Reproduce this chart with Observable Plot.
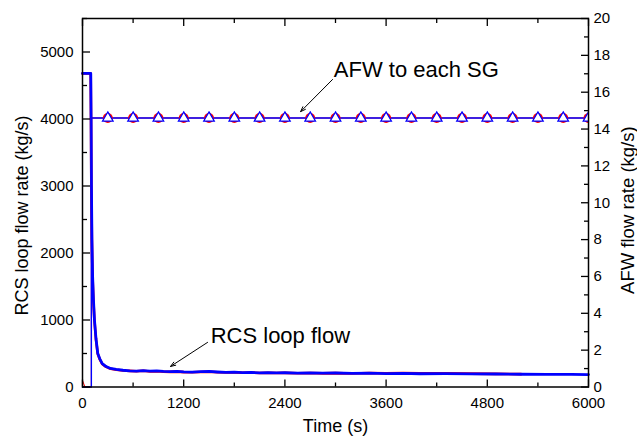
<!DOCTYPE html>
<html>
<head>
<meta charset="utf-8">
<script src="https://cdn.jsdelivr.net/npm/d3@7"></script>
<script src="https://cdn.jsdelivr.net/npm/@observablehq/plot@0.6"></script>
<style>
  html, body { margin: 0; padding: 0; background: white; }
  #chart { width: 637px; height: 437px; }
</style>
</head>
<body>
<div id="chart"></div>
<script>
// ---- Data ----
const xDomain = [0, 6000];
const leftDomain = [0, 5500];   // RCS loop flow rate (kg/s)
const rightDomain = [0, 20];    // AFW flow rate (kg/s)

const xMajorTicks = [0, 1200, 2400, 3600, 4800, 6000];
const xMinorTicks = [600, 1800, 3000, 4200, 5400];
const leftMajorTicks = [0, 1000, 2000, 3000, 4000, 5000];
const leftMinorTicks = [500, 1500, 2500, 3500, 4500, 5500];
const rightMajorTicks = [0, 2, 4, 6, 8, 10, 12, 14, 16, 18, 20];
const rightMinorTicks = [1, 3, 5, 7, 9, 11, 13, 15, 17, 19];

// RCS loop flow, case 1 (blue) [time s, kg/s]
const rcsBlue = [[0,4680],[98,4680],[102,4000],[106,3000],[112,2200],[120,1650],[130,1300],[142,1000],[160,720],[181,500],[205,420],[234,350],[280,305],[332,277],[400,262],[480,250],[560,242],[640,238],[720,245],[800,236],[880,240],[960,232],[1040,228],[1120,234],[1200,226],[1300,222],[1400,228],[1500,232],[1600,224],[1700,218],[1800,222],[1900,214],[2000,218],[2100,212],[2200,216],[2300,210],[2400,213],[2550,208],[2700,212],[2850,206],[3000,209],[3200,204],[3400,206],[3600,200],[3800,202],[4000,198],[4300,199],[4600,195],[4900,194],[5200,190],[5500,189],[5800,187],[6000,186]];
// RCS loop flow, case 2 (red)
const rcsRed = [[0,4680],[97,4680],[101,4000],[105,3000],[111,2200],[119,1650],[129,1300],[141,1000],[159,720],[180,500],[204,415],[233,345],[280,300],[332,272],[400,258],[480,246],[560,240],[640,236],[720,242],[800,232],[880,236],[960,228],[1040,226],[1120,230],[1200,222],[1300,220],[1400,224],[1500,228],[1600,220],[1700,216],[1800,219],[1900,212],[2000,215],[2100,210],[2200,213],[2300,208],[2400,211],[2550,206],[2700,210],[2850,204],[3000,207],[3200,202],[3400,210],[3600,206],[3800,208],[4000,204],[4300,205],[4600,200],[4900,196],[5200,192]];

// AFW to each SG [time s, kg/s]
const afwBlue = [[0,0],[105,0],[105,14.6],[6000,14.6]];
const afwRed = [[0,0.35],[30,0],[105,0],[105,14.6],[6000,14.6]];
const afwMarkerTimes = [300,600,900,1200,1500,1800,2100,2400,2700,3000,3300,3600,3900,4200,4500,4800,5100,5400,5700,6000];
const afwMarkerValue = 14.6;

// Annotations [time, left-axis value]
const annotations = [
  {text: "AFW to each SG", t: 2980, v: 4630, t0: 2965, v0: 4590, t1: 2586, v1: 4110},
  {text: "RCS loop flow", t: 1520, v: 655, t0: 1483, v0: 666, t1: 1044, v1: 307}
];

// Axis titles, placed in data coordinates outside the frame
const axisTitles = [
  {text: "RCS loop flow rate (kg/s)", t: -712, v: 2560, size: 18},
  {text: "AFW flow rate (kg/s)", t: 6475, v: 2640, size: 18.5}
];

// ---- Build ----
const k = leftDomain[1] / rightDomain[1]; // right -> left units
const toObj = (a) => a.map(([t, v]) => ({t, v}));
const afwMarkers = afwMarkerTimes.map(t => ({t, v: afwMarkerValue * k}));
const BLUE = "#0000ff", RED = "#ff0000";
const font = "'Liberation Sans', Arial, Helvetica, sans-serif";

const chart = Plot.plot({
  width: 637,
  height: 437,
  marginLeft: 82,
  marginRight: 49,
  marginTop: 18,
  marginBottom: 50.5,
  style: {fontFamily: font, fontSize: "15px", background: "white", color: "black"},
  x: {domain: xDomain, axis: null},
  y: {domain: leftDomain, axis: null},
  marks: [
    // RCS loop flow
    Plot.line(toObj(rcsRed), {x: "t", y: "v", stroke: RED, strokeWidth: 2.6}),
    Plot.line(toObj(rcsBlue), {x: "t", y: "v", stroke: BLUE, strokeWidth: 2.8}),
    // AFW
    Plot.line(toObj(afwRed), {x: "t", y: d => d.v * k, stroke: RED, strokeWidth: 1}),
    Plot.line(toObj(afwBlue), {x: "t", y: d => d.v * k, stroke: BLUE, strokeWidth: 1.4}),
    Plot.dot(afwMarkers, {x: "t", y: "v", r: 5, fill: RED, stroke: "none", clip: true}),
    Plot.dot(afwMarkers, {x: "t", y: "v", symbol: "triangle", r: 3.9, fill: "white", stroke: BLUE, strokeWidth: 1.3, clip: true}),
    // Annotations
    Plot.arrow(annotations, {x1: "t0", y1: "v0", x2: "t1", y2: "v1", stroke: "black", strokeWidth: 1, headLength: 8, headAngle: 40}),
    Plot.text(annotations, {x: "t", y: "v", text: "text", textAnchor: "start", lineAnchor: "bottom", fontSize: 22, fill: "black"}),
    // Frame
    Plot.frame({stroke: "black", strokeWidth: 1.5}),
    // Bottom axis
    Plot.axisX({anchor: "bottom", ticks: xMajorTicks, tickSize: -7, tickPadding: 17, tickFormat: d => String(d), label: null, fontSize: 15, strokeWidth: 1.3}),
    Plot.axisX({anchor: "bottom", ticks: xMinorTicks, tickSize: -4, tickFormat: () => "", label: null, strokeWidth: 1.3}),
    // Top axis (ticks only)
    Plot.axisX({anchor: "top", ticks: xMajorTicks, tickSize: -7, tickFormat: () => "", label: null, strokeWidth: 1.3}),
    Plot.axisX({anchor: "top", ticks: xMinorTicks, tickSize: -4, tickFormat: () => "", label: null, strokeWidth: 1.3}),
    // Left axis
    Plot.axisY({anchor: "left", ticks: leftMajorTicks, tickSize: -8, tickPadding: 17, tickFormat: d => String(d), label: null, fontSize: 15, strokeWidth: 1.3}),
    Plot.axisY({anchor: "left", ticks: leftMinorTicks, tickSize: -5, tickFormat: () => "", label: null, strokeWidth: 1.3}),
    // Right axis (AFW)
    Plot.axisY({anchor: "right", ticks: rightMajorTicks.map(d => d * k), tickSize: -8, tickPadding: 13, tickFormat: d => String(Math.round(d / k)), label: null, fontSize: 15, strokeWidth: 1.3}),
    Plot.axisY({anchor: "right", ticks: rightMinorTicks.map(d => d * k), tickSize: -5, tickFormat: () => "", label: null, strokeWidth: 1.3}),
    // Axis titles
    Plot.text(["Time (s)"], {frameAnchor: "bottom", dy: 45, text: d => d, textAnchor: "middle", lineAnchor: "bottom", fontSize: 18}),
    Plot.text(axisTitles, {x: "t", y: "v", text: "text", rotate: -90, fontSize: d => d.size, textAnchor: "middle", lineAnchor: "middle"})
  ]
});
// force centred anchoring on the rotated axis titles
const titleSet = new Set(axisTitles.map(d => d.text));
d3.select(chart).selectAll("text").each(function () {
  if (titleSet.has(this.textContent)) {
    this.setAttribute("text-anchor", "middle");
    this.style.textAnchor = "middle";
  }
});
document.getElementById("chart").appendChild(chart);
</script>
</body>
</html>
